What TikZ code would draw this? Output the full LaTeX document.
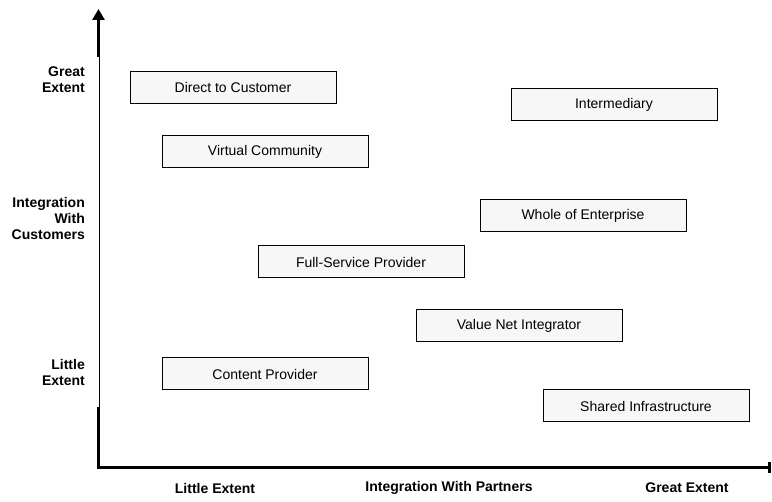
\documentclass[tikz,border=0pt]{standalone}
\usepackage{fontspec}
\setmainfont{Liberation Sans}
\usetikzlibrary{arrows.meta}

\tikzset{
	model/.style={draw, line width=1pt, fill=gray!6, minimum width=206pt, minimum height=32pt, inner sep=0pt, font=\fontsize{14}{16}\selectfont},
	axislabel/.style={font=\fontsize{14}{16}\selectfont\bfseries, align=right, inner sep=0pt},
	partnerlabel/.style={font=\fontsize{14}{16}\selectfont\bfseries, inner sep=0pt}
}

\begin{document}
\begin{tikzpicture}[x=1pt, y=-1pt]
		\useasboundingbox (0,0) rectangle (772,502);
		
		\coordinate (origin) at (98,468);
		\coordinate (ytop) at (98.5,9);
		\coordinate (yshaft) at (98.5,57);
		\coordinate (ybreak) at (98,407);
		\coordinate (xend) at (771,468);
		
		\node[model] (direct) at (233,88) {Direct to Customer};
		\node[model] (inter) at (614,105) {Intermediary};
		\node[model] (virtual) at (265,152) {Virtual Community};
		\node[model] (whole) at (583,216) {Whole of Enterprise};
		\node[model] (full) at (361,262) {Full-Service Provider};
		\node[model] (valuenet) at (519,326) {Value Net Integrator};
		\node[model] (content) at (265,374) {Content Provider};
		\node[model] (shared) at (646,406) {Shared Infrastructure};
		
		\node[axislabel, anchor=east] (ygreat) at (85,80) {Great\\Extent};
		\node[axislabel, anchor=east] (ycust) at (85,218) {Integration\\With\\Customers};
		\node[axislabel, anchor=east] (ylittle) at (85,372) {Little\\Extent};
		
		\node[partnerlabel] (xlittle) at (215,488) {Little Extent};
		\node[partnerlabel] (xpart) at (449,488) {Integration With Partners};
		\node[partnerlabel] (xgreat) at (687,488) {Great Extent};
		
		\draw[line width=1pt] (99.3,57) -- (99.3,407);
		\draw[line width=3pt, -{Triangle[length=11pt, width=12pt]}] (yshaft) -- (ytop);
		\draw[line width=3pt] (ybreak) -- ([yshift=1.5pt]origin);
		\draw[line width=3pt, -{Bar[width=11pt, line width=3pt]}] ([xshift=-1.5pt]origin) -- (xend);
		
	\end{tikzpicture}
\end{document}
